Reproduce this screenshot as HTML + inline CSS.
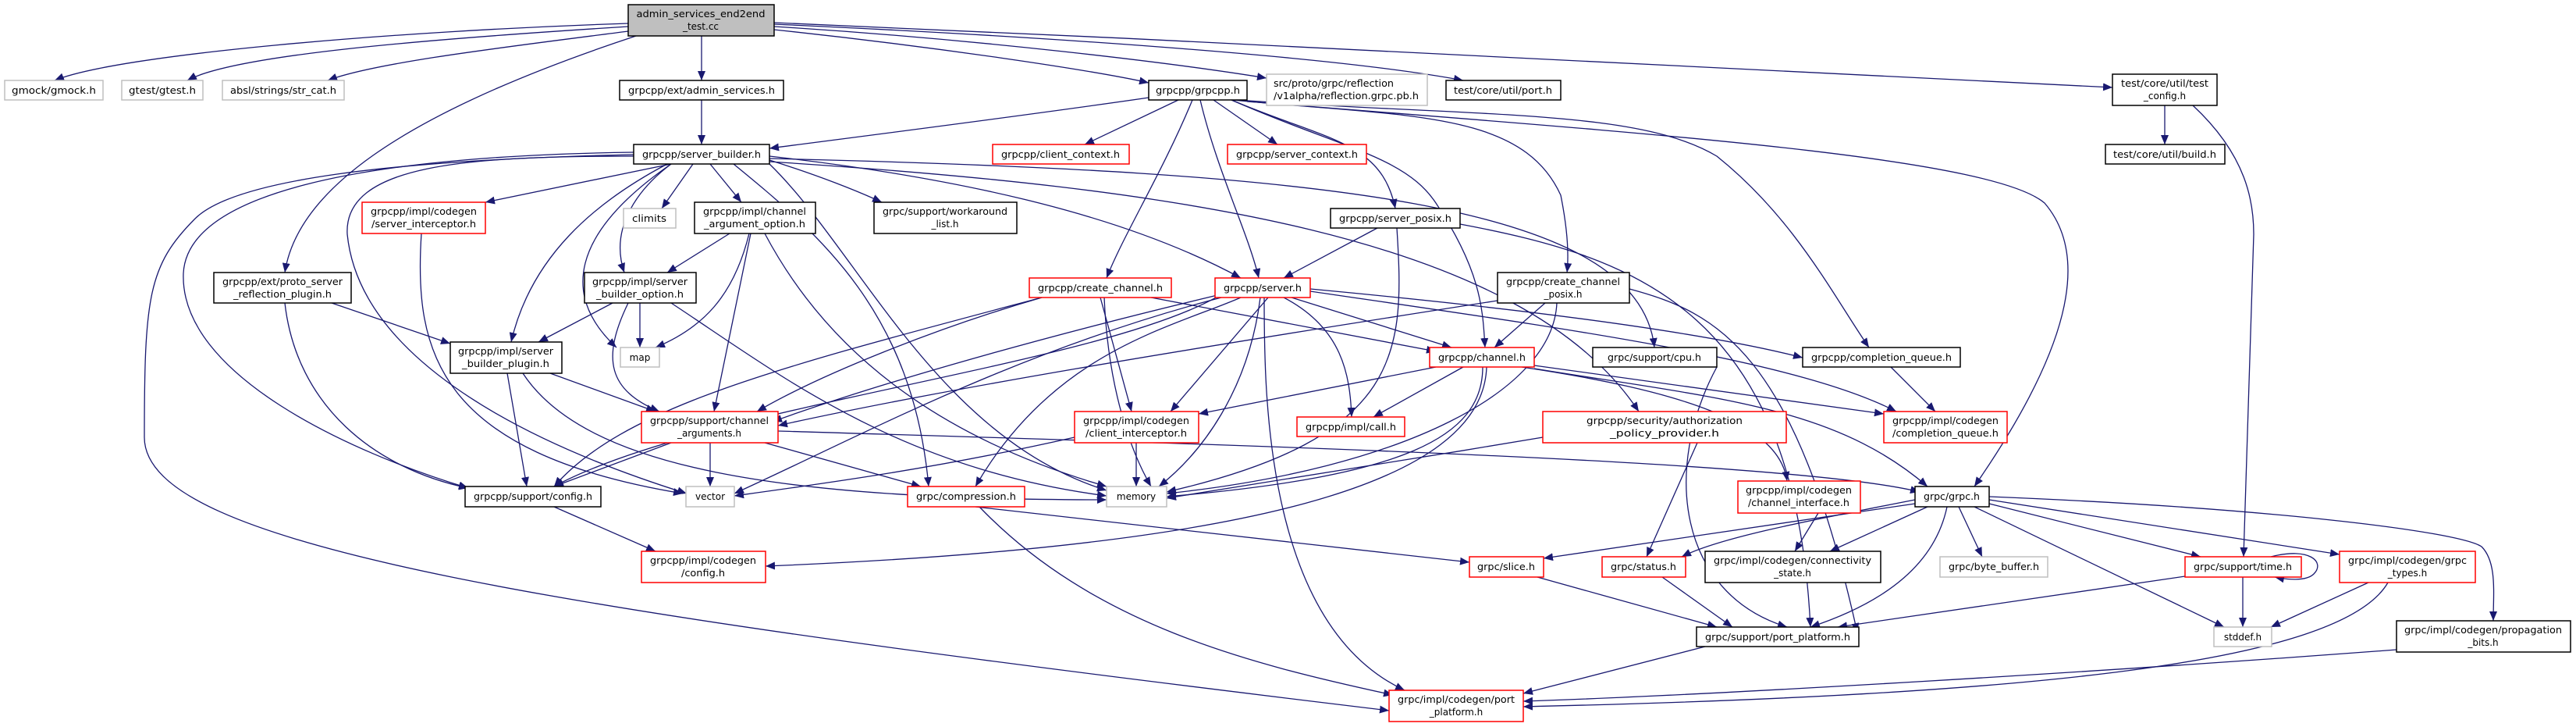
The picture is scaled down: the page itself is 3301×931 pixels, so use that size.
<!DOCTYPE html>
<html><head><meta charset="utf-8"><style>
html,body{margin:0;padding:0;background:#fff;}
svg{display:block;}
text{font-family:"DejaVu Sans","Liberation Sans",sans-serif;font-size:12px;fill:#000;}
.e path{fill:none;stroke:#191970;stroke-width:1.3;}
.n rect{fill:#fff;stroke-width:1.5;}
.k{stroke:#000;} .g{stroke:#bfbfbf;} .r{stroke:#ff0000;}
</style></head><body>
<svg width="3301" height="931" viewBox="0 0 3301 931" xmlns="http://www.w3.org/2000/svg">
<defs><marker id="a" viewBox="0 0 12 10" refX="12" refY="5" markerWidth="12" markerHeight="10" markerUnits="userSpaceOnUse" orient="auto"><path d="M0,0L12,5L0,10z" fill="#191970"/></marker></defs>
<g class="e" marker-end="url(#a)">
<path marker-end="url(#a)" d="M805,30C500,40 150,70 70,103"/>
<path marker-end="url(#a)" d="M805,34C550,50 300,70 240,103"/>
<path marker-end="url(#a)" d="M805,40C650,60 480,80 420,103"/>
<path marker-end="url(#a)" d="M815,46C500,150 380,250 365,349"/>
<path marker-end="url(#a)" d="M899,46L899,103"/>
<path marker-end="url(#a)" d="M992,38C1200,60 1400,90 1472,106"/>
<path marker-end="url(#a)" d="M992,34C1250,50 1500,80 1623,100"/>
<path marker-end="url(#a)" d="M992,31C1300,45 1700,70 1875,103"/>
<path marker-end="url(#a)" d="M992,29C1600,55 2300,90 2707,112"/>
<path marker-end="url(#a)" d="M899,128L899,185"/>
<path marker-end="url(#a)" d="M1472,125C1300,150 1100,175 986,190"/>
<path marker-end="url(#a)" d="M1510,128L1390,185"/>
<path marker-end="url(#a)" d="M1555,128L1637,185"/>
<path marker-end="url(#a)" d="M1528,128C1490,220 1440,300 1418,356"/>
<path marker-end="url(#a)" d="M1538,128C1560,220 1600,300 1613,356"/>
<path marker-end="url(#a)" d="M1578,128C1700,180 1770,180 1788,267"/>
<path marker-end="url(#a)" d="M1578,128C1720,190 1800,200 1840,260C1900,350 1900,400 1903,445"/>
<path marker-end="url(#a)" d="M1580,128C1800,150 1950,140 2000,250C2010,300 2010,330 2008,349"/>
<path marker-end="url(#a)" d="M1585,128C1900,150 2100,140 2200,200C2300,280 2350,380 2395,445"/>
<path marker-end="url(#a)" d="M1598,130C2100,170 2550,200 2620,260C2680,330 2650,450 2530,623"/>
<path marker-end="url(#a)" d="M860,210L622,259"/>
<path marker-end="url(#a)" d="M888,210L848,267"/>
<path marker-end="url(#a)" d="M910,210L950,259"/>
<path marker-end="url(#a)" d="M860,210C820,240 780,290 800,349"/>
<path marker-end="url(#a)" d="M855,210C760,260 680,330 655,438"/>
<path marker-end="url(#a)" d="M860,210C730,300 720,380 790,445"/>
<path marker-end="url(#a)" d="M986,205C1050,225 1100,245 1130,259"/>
<path marker-end="url(#a)" d="M986,200C1250,230 1450,280 1590,356"/>
<path marker-end="url(#a)" d="M940,210C1050,300 1170,400 1190,623"/>
<path marker-end="url(#a)" d="M986,210C1100,320 1200,560 1418,628"/>
<path marker-end="url(#a)" d="M812,200C600,200 440,210 445,300C460,450 650,560 880,632"/>
<path marker-end="url(#a)" d="M812,195C450,200 240,250 235,350C230,480 450,580 600,625"/>
<path marker-end="url(#a)" d="M812,198C500,205 300,230 250,280C190,340 185,380 185,560C185,700 700,780 1780,910"/>
<path marker-end="url(#a)" d="M986,203C1700,220 2100,260 2120,445"/>
<path marker-end="url(#a)" d="M986,207C1500,240 1950,300 2100,527"/>
<path marker-end="url(#a)" d="M935,299L855,349"/>
<path marker-end="url(#a)" d="M960,299C940,380 900,420 840,445"/>
<path marker-end="url(#a)" d="M962,299L915,527"/>
<path marker-end="url(#a)" d="M980,299C1060,450 1200,560 1418,623"/>
<path marker-end="url(#a)" d="M540,299C530,450 560,580 875,632"/>
<path marker-end="url(#a)" d="M425,388L577,440"/>
<path marker-end="url(#a)" d="M365,388C380,520 480,600 600,625"/>
<path marker-end="url(#a)" d="M785,388L690,438"/>
<path marker-end="url(#a)" d="M820,388L820,445"/>
<path marker-end="url(#a)" d="M805,388C770,460 780,500 845,527"/>
<path marker-end="url(#a)" d="M860,388C1000,480 1150,600 1418,635"/>
<path marker-end="url(#a)" d="M650,478L675,623"/>
<path marker-end="url(#a)" d="M705,478L840,527"/>
<path marker-end="url(#a)" d="M670,478C750,600 1000,640 1418,640"/>
<path marker-end="url(#a)" d="M1765,292L1645,356"/>
<path marker-end="url(#a)" d="M1790,292C1800,450 1800,560 1495,630"/>
<path marker-end="url(#a)" d="M1871,287C2100,330 2300,400 2320,803"/>
<path marker-end="url(#a)" d="M1335,381C1200,420 1050,480 970,527"/>
<path marker-end="url(#a)" d="M1410,381L1450,527"/>
<path marker-end="url(#a)" d="M1415,381C1420,500 1450,580 1475,623"/>
<path marker-end="url(#a)" d="M1475,381L1840,450"/>
<path marker-end="url(#a)" d="M1335,381C1000,470 800,520 710,623"/>
<path marker-end="url(#a)" d="M1560,378C1300,440 1100,500 990,540"/>
<path marker-end="url(#a)" d="M1625,381L1500,527"/>
<path marker-end="url(#a)" d="M1615,381C1600,500 1540,580 1485,623"/>
<path marker-end="url(#a)" d="M1590,381C1500,420 1350,450 1250,623"/>
<path marker-end="url(#a)" d="M1645,381C1720,420 1730,480 1732,534"/>
<path marker-end="url(#a)" d="M1655,381L1860,445"/>
<path marker-end="url(#a)" d="M1679,370C2000,400 2200,430 2310,458"/>
<path marker-end="url(#a)" d="M1679,373C2000,420 2300,460 2430,527"/>
<path marker-end="url(#a)" d="M1620,381C1620,500 1620,800 1800,884"/>
<path marker-end="url(#a)" d="M1565,381C1300,450 1100,560 941,632"/>
<path marker-end="url(#a)" d="M1560,380C1400,470 900,520 710,623"/>
<path marker-end="url(#a)" d="M1980,388L1915,445"/>
<path marker-end="url(#a)" d="M1919,385C1500,450 1200,500 997,545"/>
<path marker-end="url(#a)" d="M1995,388C1990,500 1800,600 1495,632"/>
<path marker-end="url(#a)" d="M2088,370C2200,400 2300,450 2380,810"/>
<path marker-end="url(#a)" d="M1840,470L1536,530"/>
<path marker-end="url(#a)" d="M1875,470L1760,534"/>
<path marker-end="url(#a)" d="M1900,470C1900,560 1800,610 1495,636"/>
<path marker-end="url(#a)" d="M1905,470C1900,620 1600,700 981,725"/>
<path marker-end="url(#a)" d="M1950,470C2150,500 2280,540 2290,616"/>
<path marker-end="url(#a)" d="M1966,468L2414,530"/>
<path marker-end="url(#a)" d="M1966,472C2200,510 2350,520 2470,623"/>
<path marker-end="url(#a)" d="M2200,470C2130,600 2150,760 2290,803"/>
<path marker-end="url(#a)" d="M2423,470L2480,527"/>
<path marker-end="url(#a)" d="M860,567L710,623"/>
<path marker-end="url(#a)" d="M910,567L910,623"/>
<path marker-end="url(#a)" d="M980,567L1180,623"/>
<path marker-end="url(#a)" d="M997,552C1600,570 2300,590 2460,630"/>
<path marker-end="url(#a)" d="M1456,567L1456,623"/>
<path marker-end="url(#a)" d="M1377,560C1200,600 1050,620 941,635"/>
<path marker-end="url(#a)" d="M1977,560C1800,590 1600,620 1495,638"/>
<path marker-end="url(#a)" d="M2175,567L2110,713"/>
<path marker-end="url(#a)" d="M710,649L840,706"/>
<path marker-end="url(#a)" d="M1250,649L1883,720"/>
<path marker-end="url(#a)" d="M1255,649C1400,800 1600,850 1785,890"/>
<path marker-end="url(#a)" d="M2330,657L2300,706"/>
<path marker-end="url(#a)" d="M2470,649L2345,706"/>
<path marker-end="url(#a)" d="M2454,645L1978,715"/>
<path marker-end="url(#a)" d="M2454,640C2300,670 2200,690 2155,713"/>
<path marker-end="url(#a)" d="M2495,649C2480,720 2420,770 2320,803"/>
<path marker-end="url(#a)" d="M2510,649L2540,713"/>
<path marker-end="url(#a)" d="M2530,649L2850,803"/>
<path marker-end="url(#a)" d="M2549,645L2820,713"/>
<path marker-end="url(#a)" d="M2549,640L2998,710"/>
<path marker-end="url(#a)" d="M2549,636C2900,650 3150,680 3180,700C3200,720 3195,760 3195,795"/>
<path marker-end="url(#a)" d="M2910,713C2960,700 2980,720 2965,735C2955,745 2930,742 2915,739"/>
<path marker-end="url(#a)" d="M2874,739L2874,803"/>
<path marker-end="url(#a)" d="M2800,738L2355,803"/>
<path marker-end="url(#a)" d="M3035,746L2910,803"/>
<path marker-end="url(#a)" d="M3060,746C3000,850 2600,890 1952,905"/>
<path marker-end="url(#a)" d="M1970,739L2200,803"/>
<path marker-end="url(#a)" d="M2130,739L2220,803"/>
<path marker-end="url(#a)" d="M2185,828L1952,888"/>
<path marker-end="url(#a)" d="M3071,832C2700,860 2200,890 1952,898"/>
<path marker-end="url(#a)" d="M2774,135L2774,185"/>
<path marker-end="url(#a)" d="M2810,135C2880,200 2888,260 2888,300L2875,713"/>
</g>
<g class="n">
<rect x="805" y="6" width="187" height="40" fill="#bfbfbf" style="fill:#bfbfbf" class="k"/>
<text x="898" y="22" text-anchor="middle" textLength="165" lengthAdjust="spacingAndGlyphs">admin_services_end2end</text>
<text x="898" y="38" text-anchor="middle">_test.cc</text>
<rect x="6" y="103" width="126" height="25" class="g"/><text x="69" y="120" text-anchor="middle" textLength="108" lengthAdjust="spacingAndGlyphs">gmock/gmock.h</text>
<rect x="156" y="103" width="104" height="25" class="g"/><text x="208" y="120" text-anchor="middle" textLength="86" lengthAdjust="spacingAndGlyphs">gtest/gtest.h</text>
<rect x="285" y="103" width="156" height="25" class="g"/><text x="363" y="120" text-anchor="middle" textLength="136" lengthAdjust="spacingAndGlyphs">absl/strings/str_cat.h</text>
<rect x="794" y="103" width="210" height="25" class="k"/><text x="899" y="120" text-anchor="middle" textLength="188" lengthAdjust="spacingAndGlyphs">grpcpp/ext/admin_services.h</text>
<rect x="1472" y="103" width="126" height="25" class="k"/><text x="1535" y="120" text-anchor="middle" textLength="108" lengthAdjust="spacingAndGlyphs">grpcpp/grpcpp.h</text>
<rect x="1623" y="95" width="206" height="40" class="g"/><text x="1632" y="111" textLength="154" lengthAdjust="spacingAndGlyphs">src/proto/grpc/reflection</text><text x="1632" y="127" textLength="186" lengthAdjust="spacingAndGlyphs">/v1alpha/reflection.grpc.pb.h</text>
<rect x="1853" y="103" width="147" height="25" class="k"/><text x="1926" y="120" text-anchor="middle" textLength="126" lengthAdjust="spacingAndGlyphs">test/core/util/port.h</text>
<rect x="2707" y="95" width="134" height="40" class="k"/><text x="2774" y="111" text-anchor="middle" textLength="112" lengthAdjust="spacingAndGlyphs">test/core/util/test</text><text x="2774" y="127" text-anchor="middle">_config.h</text>
<rect x="2698" y="185" width="153" height="25" class="k"/><text x="2774" y="202" text-anchor="middle" textLength="132" lengthAdjust="spacingAndGlyphs">test/core/util/build.h</text>
<rect x="812" y="185" width="174" height="25" class="k"/><text x="899" y="202" text-anchor="middle" textLength="152" lengthAdjust="spacingAndGlyphs">grpcpp/server_builder.h</text>
<rect x="1272" y="185" width="175" height="25" class="r"/><text x="1359" y="202" text-anchor="middle" textLength="152" lengthAdjust="spacingAndGlyphs">grpcpp/client_context.h</text>
<rect x="1573" y="185" width="178" height="25" class="r"/><text x="1662" y="202" text-anchor="middle" textLength="156" lengthAdjust="spacingAndGlyphs">grpcpp/server_context.h</text>
<rect x="464" y="259" width="158" height="40" class="r"/><text x="543" y="275" text-anchor="middle" textLength="136" lengthAdjust="spacingAndGlyphs">grpcpp/impl/codegen</text><text x="543" y="291" text-anchor="middle" textLength="134" lengthAdjust="spacingAndGlyphs">/server_interceptor.h</text>
<rect x="799" y="267" width="67" height="25" class="g"/><text x="832" y="284" text-anchor="middle" textLength="44" lengthAdjust="spacingAndGlyphs">climits</text>
<rect x="890" y="259" width="155" height="40" class="k"/><text x="967" y="275" text-anchor="middle" textLength="132" lengthAdjust="spacingAndGlyphs">grpcpp/impl/channel</text><text x="967" y="291" text-anchor="middle" textLength="130" lengthAdjust="spacingAndGlyphs">_argument_option.h</text>
<rect x="1120" y="259" width="183" height="40" class="k"/><text x="1211" y="275" text-anchor="middle" textLength="160" lengthAdjust="spacingAndGlyphs">grpc/support/workaround</text><text x="1211" y="291" text-anchor="middle">_list.h</text>
<rect x="1705" y="267" width="166" height="25" class="k"/><text x="1788" y="284" text-anchor="middle" textLength="144" lengthAdjust="spacingAndGlyphs">grpcpp/server_posix.h</text>
<rect x="274" y="349" width="176" height="39" class="k"/><text x="362" y="365" text-anchor="middle" textLength="154" lengthAdjust="spacingAndGlyphs">grpcpp/ext/proto_server</text><text x="362" y="381" text-anchor="middle" textLength="126" lengthAdjust="spacingAndGlyphs">_reflection_plugin.h</text>
<rect x="749" y="349" width="143" height="39" class="k"/><text x="820" y="365" text-anchor="middle" textLength="122" lengthAdjust="spacingAndGlyphs">grpcpp/impl/server</text><text x="820" y="381" text-anchor="middle" textLength="112" lengthAdjust="spacingAndGlyphs">_builder_option.h</text>
<rect x="1319" y="356" width="182" height="25" class="r"/><text x="1410" y="373" text-anchor="middle" textLength="160" lengthAdjust="spacingAndGlyphs">grpcpp/create_channel.h</text>
<rect x="1557" y="356" width="122" height="25" class="r"/><text x="1618" y="373" text-anchor="middle" textLength="100" lengthAdjust="spacingAndGlyphs">grpcpp/server.h</text>
<rect x="1919" y="349" width="169" height="39" class="k"/><text x="2003" y="365" text-anchor="middle" textLength="146" lengthAdjust="spacingAndGlyphs">grpcpp/create_channel</text><text x="2003" y="381" text-anchor="middle">_posix.h</text>
<rect x="577" y="438" width="143" height="40" class="k"/><text x="648" y="454" text-anchor="middle" textLength="122" lengthAdjust="spacingAndGlyphs">grpcpp/impl/server</text><text x="648" y="470" text-anchor="middle" textLength="112" lengthAdjust="spacingAndGlyphs">_builder_plugin.h</text>
<rect x="795" y="445" width="50" height="25" class="g"/><text x="820" y="462" text-anchor="middle">map</text>
<rect x="1832" y="445" width="134" height="25" class="r"/><text x="1899" y="462" text-anchor="middle" textLength="112" lengthAdjust="spacingAndGlyphs">grpcpp/channel.h</text>
<rect x="2041" y="445" width="159" height="25" class="k"/><text x="2120" y="462" text-anchor="middle" textLength="120" lengthAdjust="spacingAndGlyphs">grpc/support/cpu.h</text>
<rect x="2310" y="445" width="202" height="25" class="k"/><text x="2411" y="462" text-anchor="middle" textLength="180" lengthAdjust="spacingAndGlyphs">grpcpp/completion_queue.h</text>
<rect x="822" y="527" width="175" height="40" class="r"/><text x="909" y="543" text-anchor="middle" textLength="152" lengthAdjust="spacingAndGlyphs">grpcpp/support/channel</text><text x="909" y="559" text-anchor="middle" textLength="82" lengthAdjust="spacingAndGlyphs">_arguments.h</text>
<rect x="1377" y="527" width="159" height="40" class="r"/><text x="1456" y="543" text-anchor="middle" textLength="136" lengthAdjust="spacingAndGlyphs">grpcpp/impl/codegen</text><text x="1456" y="559" text-anchor="middle" textLength="130" lengthAdjust="spacingAndGlyphs">/client_interceptor.h</text>
<rect x="1662" y="534" width="138" height="25" class="r"/><text x="1731" y="551" text-anchor="middle" textLength="116" lengthAdjust="spacingAndGlyphs">grpcpp/impl/call.h</text>
<rect x="1977" y="527" width="312" height="40" class="r"/><text x="2133" y="543" text-anchor="middle" textLength="200" lengthAdjust="spacingAndGlyphs">grpcpp/security/authorization</text><text x="2133" y="559" text-anchor="middle" textLength="140" lengthAdjust="spacingAndGlyphs">_policy_provider.h</text>
<rect x="2414" y="527" width="158" height="40" class="r"/><text x="2493" y="543" text-anchor="middle" textLength="136" lengthAdjust="spacingAndGlyphs">grpcpp/impl/codegen</text><text x="2493" y="559" text-anchor="middle" textLength="136" lengthAdjust="spacingAndGlyphs">/completion_queue.h</text>
<rect x="596" y="623" width="174" height="26" class="k"/><text x="683" y="640" text-anchor="middle" textLength="152" lengthAdjust="spacingAndGlyphs">grpcpp/support/config.h</text>
<rect x="879" y="623" width="62" height="26" class="g"/><text x="910" y="640" text-anchor="middle">vector</text>
<rect x="1163" y="623" width="150" height="26" class="r"/><text x="1238" y="640" text-anchor="middle" textLength="128" lengthAdjust="spacingAndGlyphs">grpc/compression.h</text>
<rect x="1418" y="623" width="77" height="26" class="g"/><text x="1456" y="640" text-anchor="middle">memory</text>
<rect x="2227" y="616" width="157" height="41" class="r"/><text x="2305" y="632" text-anchor="middle" textLength="136" lengthAdjust="spacingAndGlyphs">grpcpp/impl/codegen</text><text x="2305" y="648" text-anchor="middle" textLength="130" lengthAdjust="spacingAndGlyphs">/channel_interface.h</text>
<rect x="2454" y="623" width="95" height="26" class="k"/><text x="2501" y="640" text-anchor="middle" textLength="72" lengthAdjust="spacingAndGlyphs">grpc/grpc.h</text>
<rect x="822" y="706" width="159" height="40" class="r"/><text x="901" y="722" text-anchor="middle" textLength="136" lengthAdjust="spacingAndGlyphs">grpcpp/impl/codegen</text><text x="901" y="738" text-anchor="middle" textLength="56" lengthAdjust="spacingAndGlyphs">/config.h</text>
<rect x="2185" y="706" width="225" height="40" class="k"/><text x="2297" y="722" text-anchor="middle" textLength="202" lengthAdjust="spacingAndGlyphs">grpc/impl/codegen/connectivity</text><text x="2297" y="738" text-anchor="middle">_state.h</text>
<rect x="1883" y="713" width="95" height="26" class="r"/><text x="1930" y="730" text-anchor="middle" textLength="74" lengthAdjust="spacingAndGlyphs">grpc/slice.h</text>
<rect x="2053" y="713" width="107" height="26" class="r"/><text x="2106" y="730" text-anchor="middle" textLength="84" lengthAdjust="spacingAndGlyphs">grpc/status.h</text>
<rect x="2486" y="713" width="138" height="26" class="g"/><text x="2555" y="730" text-anchor="middle" textLength="116" lengthAdjust="spacingAndGlyphs">grpc/byte_buffer.h</text>
<rect x="2800" y="713" width="149" height="26" class="r"/><text x="2874" y="730" text-anchor="middle" textLength="126" lengthAdjust="spacingAndGlyphs">grpc/support/time.h</text>
<rect x="2998" y="706" width="174" height="40" class="r"/><text x="3085" y="722" text-anchor="middle" textLength="152" lengthAdjust="spacingAndGlyphs">grpc/impl/codegen/grpc</text><text x="3085" y="738" text-anchor="middle">_types.h</text>
<rect x="2174" y="803" width="208" height="25" class="k"/><text x="2278" y="820" text-anchor="middle" textLength="186" lengthAdjust="spacingAndGlyphs">grpc/support/port_platform.h</text>
<rect x="2837" y="803" width="74" height="25" class="g"/><text x="2874" y="820" text-anchor="middle">stddef.h</text>
<rect x="3071" y="795" width="223" height="40" class="k"/><text x="3182" y="811" text-anchor="middle" textLength="202" lengthAdjust="spacingAndGlyphs">grpc/impl/codegen/propagation</text><text x="3182" y="827" text-anchor="middle">_bits.h</text>
<rect x="1780" y="884" width="172" height="40" class="r"/><text x="1866" y="900" text-anchor="middle" textLength="150" lengthAdjust="spacingAndGlyphs">grpc/impl/codegen/port</text><text x="1866" y="916" text-anchor="middle">_platform.h</text>
</g>
</svg>
</body></html>
